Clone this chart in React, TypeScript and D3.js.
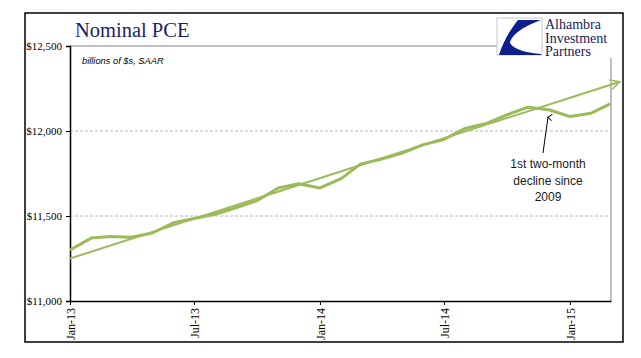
import { useRef, useEffect } from "react";
import * as d3 from "d3";

// monthly nominal PCE, billions of $, SAAR, Jan-2013 .. Mar-2015
const months = d3.timeMonths(new Date(2013, 0, 1), new Date(2015, 3, 1));
const pce = [
  11300, 11370, 11380, 11375, 11400, 11460, 11485, 11510, 11550, 11590, 11665, 11690,
  11665, 11720, 11805, 11835, 11870, 11920, 11950, 12015, 12045, 12095, 12140, 12125,
  12085, 12105, 12160,
];
// straight trend line drawn with an arrowhead
const trendDates = [new Date(2013, 0, 1), new Date(2015, 2, 15)];
const trendValues = [11250, 12290];

const yTicks = [11000, 11500, 12000, 12500];
const xTicks = [
  new Date(2013, 0, 1),
  new Date(2013, 6, 1),
  new Date(2014, 0, 1),
  new Date(2014, 6, 1),
  new Date(2015, 0, 1),
];
const noteLines = ["1st two-month", "decline since", "2009"];

export default function App() {
  const ref = useRef<SVGSVGElement | null>(null);

  useEffect(() => {
    const svg = d3.select(ref.current);
    svg.selectAll("*").remove();

    const width = 641;
    const height = 358;
    const margin = { top: 46, right: 30, bottom: 57, left: 70 };
    const green = "#9bbb59";

    const x = d3
      .scaleTime()
      .domain([new Date(2013, 0, 1), new Date(2015, 2, 2)])
      .range([margin.left, width - margin.right]);

    const y = d3
      .scaleLinear()
      .domain([11000, 12500])
      .range([height - margin.bottom, margin.top]);

    // outer frame
    svg
      .append("rect")
      .attr("x", 25)
      .attr("y", 13)
      .attr("width", 598)
      .attr("height", 329)
      .attr("fill", "white")
      .attr("stroke", "#000")
      .attr("stroke-width", 1.5);

    // plot area border (top + right)
    svg
      .append("path")
      .attr("d", `M${margin.left},${y(12500)}H${x.range()[1]}V${y(11000)}`)
      .attr("fill", "none")
      .attr("stroke", "#808080")
      .attr("stroke-width", 1);

    // dashed gridlines
    svg
      .append("g")
      .selectAll("line")
      .data(yTicks.filter((d) => d > 11000 && d < 12500))
      .join("line")
      .attr("x1", margin.left)
      .attr("x2", x.range()[1])
      .attr("y1", (d) => y(d))
      .attr("y2", (d) => y(d))
      .attr("stroke", "#a6a6a6")
      .attr("stroke-width", 0.8)
      .attr("stroke-dasharray", "3,2");

    // Y axis
    const yAxis = svg
      .append("g")
      .attr("transform", `translate(${margin.left},0)`)
      .call(
        d3
          .axisLeft(y)
          .tickValues(yTicks)
          .tickSize(4)
          .tickPadding(4)
          .tickFormat((d) => "$" + d3.format(",")(d as number))
      );
    yAxis.select(".domain").attr("stroke", "#000").attr("stroke-width", 1.5);
    yAxis.selectAll(".tick line").attr("stroke", "#000");
    yAxis
      .selectAll("text")
      .attr("font-family", "Liberation Serif")
      .attr("font-size", 11)
      .attr("fill", "#000");

    // X axis
    const xAxis = svg
      .append("g")
      .attr("transform", `translate(0,${y(11000)})`)
      .call(
        d3
          .axisBottom(x)
          .tickValues(xTicks)
          .tickSize(4)
          .tickSizeOuter(0)
          .tickFormat((d) => d3.timeFormat("%b-%y")(d as Date))
      );
    xAxis.select(".domain").attr("stroke", "#000").attr("stroke-width", 1.5);
    xAxis.selectAll(".tick line").attr("stroke", "#000");
    xAxis
      .selectAll("text")
      .attr("font-family", "Liberation Serif")
      .attr("font-size", 12)
      .attr("fill", "#000")
      .attr("text-anchor", "end")
      .attr("dy", "0.35em")
      .attr("transform", "translate(0,7) rotate(-90)")
      .attr("x", 0)
      .attr("y", 0);

    // title + subtitle
    svg
      .append("text")
      .attr("x", 75)
      .attr("y", 37)
      .attr("font-family", "Liberation Serif")
      .attr("font-size", 20.5)
      .attr("fill", "#1c1c6b")
      .text("Nominal PCE");
    svg
      .append("text")
      .attr("x", 82)
      .attr("y", 64)
      .attr("font-family", "Liberation Sans")
      .attr("font-style", "italic")
      .attr("font-size", 9.3)
      .attr("fill", "#000")
      .text("billions of $s, SAAR");

    // logo
    const logo = svg.append("g");
    logo
      .append("rect")
      .attr("x", 497)
      .attr("y", 18)
      .attr("width", 45)
      .attr("height", 37)
      .attr("fill", "white")
      .attr("stroke", "#c8c8c8");
    logo
      .append("path")
      .attr(
        "d",
        "M518,20 L541,20 C524,26 511,35 510,43 C514,50 528,53 541,54 L541,55 L499,55 C503,42 510,30 518,20 Z"
      )
      .attr("fill", "#0d1f8c");
    logo
      .append("rect")
      .attr("x", 543)
      .attr("y", 16)
      .attr("width", 78)
      .attr("height", 42)
      .attr("fill", "white");
    logo
      .selectAll("text")
      .data(["Alhambra", "Investment", "Partners"])
      .join("text")
      .attr("x", 545)
      .attr("y", (_, i) => 29 + i * 13.5)
      .attr("font-family", "Liberation Serif")
      .attr("font-size", 14)
      .attr("fill", "#1a1a55")
      .text((d) => d);

    // arrowhead markers
    const defs = svg.append("defs");
    defs
      .append("marker")
      .attr("id", "trendArrow")
      .attr("viewBox", "0 0 10 10")
      .attr("refX", 9)
      .attr("refY", 5)
      .attr("markerWidth", 6)
      .attr("markerHeight", 6)
      .attr("markerUnits", "strokeWidth")
      .attr("orient", "auto")
      .append("path")
      .attr("d", "M1,1 L9,5 L1,9")
      .attr("fill", "none")
      .attr("stroke", green)
      .attr("stroke-width", 1.3);
    defs
      .append("marker")
      .attr("id", "noteArrow")
      .attr("viewBox", "0 0 10 10")
      .attr("refX", 5)
      .attr("refY", 1)
      .attr("markerWidth", 8)
      .attr("markerHeight", 8)
      .attr("markerUnits", "userSpaceOnUse")
      .attr("orient", "auto-start-reverse")
      .append("path")
      .attr("d", "M1,6 L5,1 L9,6")
      .attr("fill", "none")
      .attr("stroke", "#000")
      .attr("stroke-width", 1.2);

    const line = d3
      .line<{ date: Date; value: number }>()
      .x((d) => x(d.date))
      .y((d) => y(d.value));

    // trend line
    const trendData = trendDates.map((d, i) => ({ date: d, value: trendValues[i] }));
    svg
      .append("path")
      .datum(trendData)
      .attr("fill", "none")
      .attr("stroke", green)
      .attr("stroke-width", 2)
      .attr("marker-end", "url(#trendArrow)")
      .attr("d", line);

    // PCE line
    const pceData = months.map((d, i) => ({ date: d, value: pce[i] }));
    svg
      .append("path")
      .datum(pceData)
      .attr("fill", "none")
      .attr("stroke", green)
      .attr("stroke-width", 3)
      .attr("stroke-linejoin", "round")
      .attr("d", line);

    // annotation
    svg
      .append("line")
      .attr("x1", 543)
      .attr("y1", 153)
      .attr("x2", 548)
      .attr("y2", 117)
      .attr("stroke", "#000")
      .attr("stroke-width", 1)
      .attr("marker-end", "url(#noteArrow)");
    svg
      .append("g")
      .selectAll("text")
      .data(noteLines)
      .join("text")
      .attr("x", 548)
      .attr("y", (_, i) => 168 + i * 16.5)
      .attr("text-anchor", "middle")
      .attr("font-family", "Liberation Sans")
      .attr("font-size", 12)
      .attr("fill", "#1a1a1a")
      .text((d) => d);
  }, []);

  return <svg ref={ref} width={641} height={358} style={{ display: "block", margin: -8 }}></svg>;
}
